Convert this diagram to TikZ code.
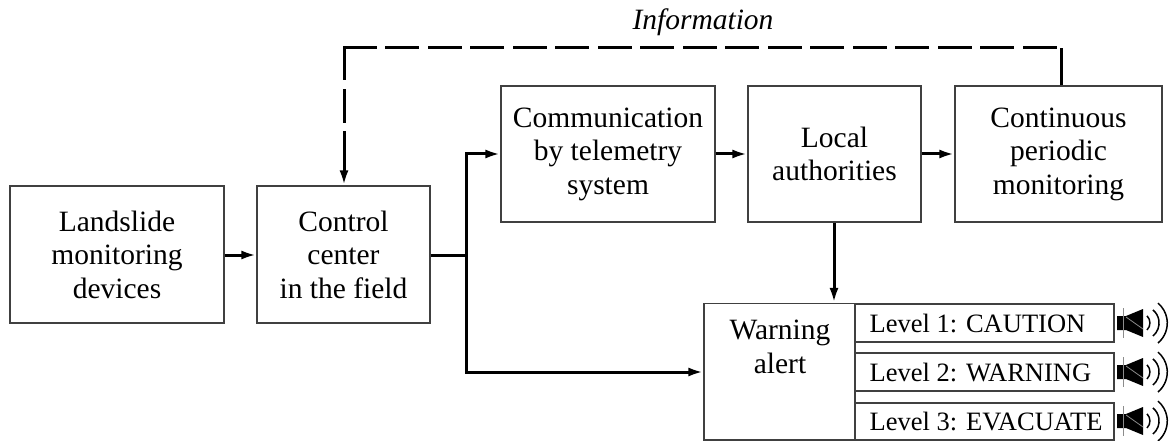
\documentclass[tikz,border=0pt]{standalone}
\usepackage{fontspec}
\setmainfont{Liberation Serif}
\usetikzlibrary{arrows.meta,calc}
\tikzset{
  blockbox/.style={draw=black!75,line width=1.3pt,inner sep=0pt,align=center,font=\fontsize{29.5}{33.5}\selectfont},
  levelbox/.style={blockbox,font=\fontsize{26.5}{30}\selectfont,text depth=0pt},
  conn/.style={line width=3pt,-{Latex[length=15pt,width=9pt]},black},
  dashline/.style={line width=3pt,black,line cap=rect,dash pattern=on 31pt off 11.5pt},
  solidline/.style={line width=3pt,black},
}
\newcommand{\blockat}[7]{\node[#7,minimum width=#4pt-#2pt,minimum height=#5pt-#3pt] (#1) at ({(#2+#4)/2},{(#3+#5)/2}) {#6};}
\newcommand{\speakerat}[2]{%
  \begin{scope}[shift={(#1,#2)}]
    \fill[black] (0,-7)--(9,-7)--(26,-14)--(26,14)--(9,7)--(0,7)--cycle;
    \draw[black!45,line width=1pt] (6,-15)--(6,15);
    \draw[black!45,line width=.8pt] (9,-6)--(26,6);
    \draw[black,line width=1.5pt] (30,7) arc[start angle=-45,end angle=45,radius=10pt];
    \draw[black,line width=1.5pt] (36,13) arc[start angle=-50,end angle=50,radius=17pt];
    \draw[black,line width=1.5pt] (41,20) arc[start angle=-50,end angle=50,radius=26pt];
  \end{scope}}
\begin{document}
\begin{tikzpicture}[x=1pt,y=-1pt]
\useasboundingbox (0,0) rectangle (1171,441);
\blockat{land}{10}{186}{224}{323}{Landslide\\monitoring\\devices}{blockbox}
\blockat{ctrl}{257}{186}{430}{323}{Control\\center\\in the field}{blockbox}
\blockat{comm}{501}{86}{715}{222}{Communication\\by telemetry\\system}{blockbox}
\blockat{local}{748}{86}{921}{222}{Local\\authorities}{blockbox}
\blockat{cont}{955}{86}{1162}{222}{Continuous\\periodic\\monitoring}{blockbox}
\blockat{warn}{704}{303.5}{855}{440}{}{blockbox}
\node[blockbox,draw=none,anchor=center] (warntxt) at (780,347) {Warning\\alert};
\blockat{lv1}{855}{304}{1114}{342}{}{levelbox}
\blockat{lv2}{855}{353}{1114}{391}{}{levelbox}
\blockat{lv3}{855}{403}{1114}{440}{}{levelbox}
\node[levelbox,draw=none,anchor=west] (t1) at (869,323) {Level 1: CAUTION};
\node[levelbox,draw=none,anchor=west] (t2) at (869,372) {Level 2: WARNING};
\node[levelbox,draw=none,anchor=west] (t3) at (869,421.5) {Level 3: EVACUATE};
\node[font=\itshape\fontsize{29.5}{33}\selectfont] (info) at (703,22) {Information};
\coordinate (jn) at (466,255);
\coordinate (ctop) at (1061,48);
\coordinate (cleft) at (344,48);
\draw[conn] (land.east |- jn) -- (ctrl.west |- jn);
\draw[solidline] (ctrl.east |- jn) -- (jn);
\draw[conn] (jn) |- (comm.west);
\draw[conn] (jn) |- (warn.west |- 0,372);
\draw[conn] (comm.east) -- (local.west);
\draw[conn] (local.east) -- (cont.west);
\draw[conn] (local.south -| 834,0) -- (warn.north -| 834,0);
\draw[solidline] (cont.north -| ctop) -- (ctop);
\draw[dashline] (cleft) -- (ctop);
\draw[dashline] (cleft) -- (344,150);
\draw[conn] (344,150) -- (ctrl.north -| cleft);
\speakerat{1117}{323}
\speakerat{1117}{372}
\speakerat{1117}{421}
\end{tikzpicture}
\end{document}
